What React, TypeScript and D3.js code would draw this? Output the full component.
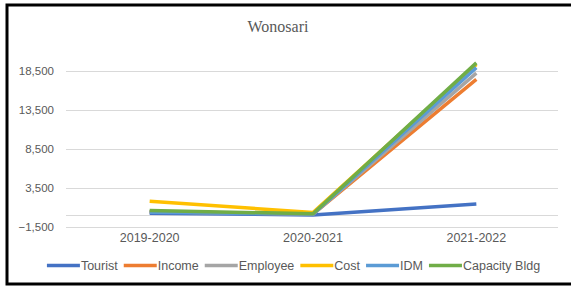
import React, { useEffect, useRef } from 'react';
import * as d3 from 'd3';

const categories = ['2019-2020', '2020-2021', '2021-2022'];
const seriesNames = ['Tourist', 'Income', 'Employee', 'Cost', 'IDM', 'Capacity Bldg'];
const tourist = [250, 50, 1450];
const income = [450, 150, 17400];
const employee = [450, 150, 18200];
const cost = [1800, 350, 19300];
const idm = [400, 150, 18900];
const capacityBldg = [600, 200, 19500];
const yTicks = [-1500, 3500, 8500, 13500, 18500];
const colors = ['#4472C4', '#ED7D31', '#A5A5A5', '#FFC000', '#5B9BD5', '#70AD47'];

function App() {
  const svgRef = useRef<SVGSVGElement>(null);

  useEffect(() => {
    const svg = d3.select(svgRef.current);
    svg.selectAll('*').remove();

    const width = 571;
    const plot = { left: 68, right: 558, top: 59, bottom: 227 };
    const font = '"Liberation Sans", Arial, sans-serif';
    const textColor = '#595959';

    const values = [tourist, income, employee, cost, idm, capacityBldg];

    // outer frame
    svg.append('rect')
      .attr('x', 7).attr('y', 5)
      .attr('width', width).attr('height', 279)
      .attr('fill', '#fff').attr('stroke', '#000').attr('stroke-width', 3);

    svg.append('text')
      .attr('x', 278).attr('y', 32)
      .attr('text-anchor', 'middle')
      .attr('font-family', '"Liberation Serif", "Times New Roman", serif')
      .attr('font-size', 16)
      .attr('fill', textColor)
      .text('Wonosari');

    const x = d3.scalePoint().domain(categories).range([plot.left, plot.right]).padding(0.5);
    const y = d3.scaleLinear().domain([-1500, 20000]).range([plot.bottom, plot.top]);

    const grid = svg.append('g');
    grid.selectAll('line')
      .data(yTicks)
      .enter()
      .append('line')
      .attr('x1', plot.left - 2).attr('x2', plot.right)
      .attr('y1', d => Math.round(y(d)) + 0.5).attr('y2', d => Math.round(y(d)) + 0.5)
      .attr('stroke', '#D9D9D9').attr('stroke-width', 1);

    // horizontal axis crosses at zero
    grid.append('line')
      .attr('x1', plot.left - 2).attr('x2', plot.right)
      .attr('y1', Math.round(y(0)) + 0.5).attr('y2', Math.round(y(0)) + 0.5)
      .attr('stroke', '#D9D9D9').attr('stroke-width', 1);

    svg.append('g').selectAll('text')
      .data(yTicks)
      .enter()
      .append('text')
      .attr('x', 54).attr('y', d => y(d) + 4)
      .attr('text-anchor', 'end')
      .attr('font-family', font).attr('font-size', 11.5)
      .attr('fill', textColor)
      .text(d => d3.format(',')(d));

    svg.append('g').selectAll('text')
      .data(categories)
      .enter()
      .append('text')
      .attr('x', d => x(d) as number).attr('y', plot.bottom + 15)
      .attr('text-anchor', 'middle')
      .attr('font-family', font).attr('font-size', 12.5)
      .attr('fill', textColor)
      .text(d => d);

    const line = d3.line<number>()
      .x((d, i) => x(categories[i]) as number)
      .y(d => y(d));

    svg.append('g').selectAll('path')
      .data(values)
      .enter()
      .append('path')
      .attr('d', d => line(d))
      .attr('fill', 'none')
      .attr('stroke', (d, i) => colors[i])
      .attr('stroke-width', 3.5)
      .attr('stroke-linejoin', 'round');

    // legend
    const legend = svg.append('g');
    const sample = 33;
    const gap = 6;
    let cx = 0;
    const items = seriesNames.map((name, i) => {
      const t = legend.append('text')
        .attr('font-family', font).attr('font-size', 12.5)
        .attr('fill', textColor)
        .text(name);
      const w = (t.node() as SVGTextElement).getComputedTextLength();
      const item = { i, start: cx, t };
      cx += sample + 1 + w + gap;
      return item;
    });
    const total = cx - gap;
    const lx = 293.5 - total / 2;
    const ly = 265.5;
    items.forEach(({ i, start, t }) => {
      legend.append('line')
        .attr('x1', lx + start).attr('x2', lx + start + sample)
        .attr('y1', ly).attr('y2', ly)
        .attr('stroke', colors[i]).attr('stroke-width', 3.5);
      t.attr('x', lx + start + sample + 1).attr('y', ly + 4.5);
    });
  }, []);

  return (
    <svg
      ref={svgRef}
      width={571}
      height={288}
      style={{ position: 'absolute', left: 0, top: 0, background: '#fff' }}
    />
  );
}

export default App;
